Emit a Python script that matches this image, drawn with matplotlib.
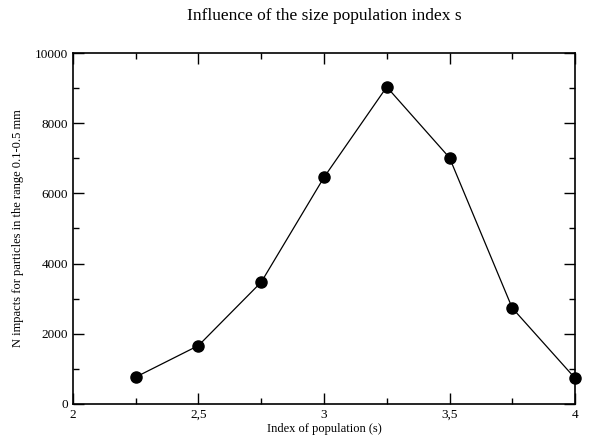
import matplotlib.pyplot as plt
from matplotlib.ticker import MultipleLocator

# values
index_s = [2.25, 2.5, 2.75, 3.0, 3.25, 3.5, 3.75, 4.0]
n_impacts = [760, 1660, 3470, 6460, 9040, 7020, 2730, 730]
x_ticks = [2, 2.5, 3, 3.5, 4]
x_ticklabels = ["2", "2,5", "3", "3,5", "4"]
y_ticks = [0, 2000, 4000, 6000, 8000, 10000]

plt.rcParams['font.family'] = ['Liberation Serif', 'DejaVu Serif']

fig = plt.figure(figsize=(5.92, 4.43), dpi=100)
ax = fig.add_axes([0.1233, 0.0887, 0.848, 0.791])

ax.plot(index_s, n_impacts, "k-", lw=0.9, marker="o", ms=8, clip_on=False, zorder=3)

ax.set_xlim(2, 4)
ax.set_ylim(0, 10000)
ax.set_xticks(x_ticks)
ax.set_xticklabels(x_ticklabels)
ax.set_yticks(y_ticks)
ax.xaxis.set_minor_locator(MultipleLocator(0.25))
ax.yaxis.set_minor_locator(MultipleLocator(1000))
ax.tick_params(which="both", direction="in", top=True, right=True, labelsize=9.5, width=1)
ax.tick_params(which="major", length=8)
ax.tick_params(which="minor", length=4.5)
for s in ax.spines.values():
    s.set_linewidth(1.2)

ax.set_xlabel("Index of population (s)", fontsize=9, labelpad=2)
ax.set_ylabel("N impacts for particles in the range 0.1-0.5 mm", fontsize=9, labelpad=8)
fig.text(0.5475, 0.965, "Influence of the size population index s", ha="center", va="center", fontsize=12.5)

fig.savefig("out.png", dpi=100)
